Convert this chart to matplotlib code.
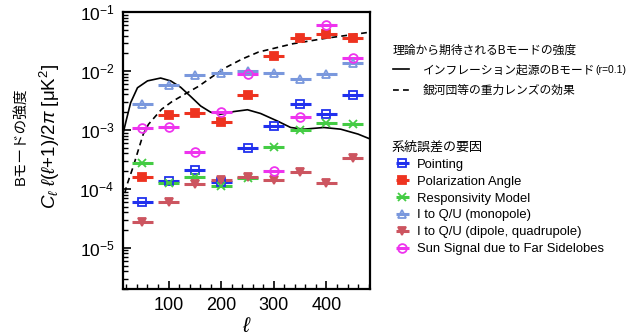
import matplotlib
matplotlib.use('Agg')
import matplotlib.pyplot as plt
from matplotlib.ticker import MultipleLocator, LogLocator, NullFormatter

plt.rcParams['font.family'] = ['Liberation Sans', 'Noto Sans CJK JP']
plt.rcParams['mathtext.fontset'] = 'custom'
plt.rcParams['mathtext.rm'] = 'Liberation Sans'
plt.rcParams['mathtext.it'] = 'Liberation Sans:italic'

# multipole bin centres and half-widths
ell = [50, 100, 150, 200, 250, 300, 350, 400, 450]
ell_err = 20

pointing = [5.9e-5, 1.34e-4, 2.1e-4, 1.3e-4, 4.9e-4, 1.15e-3, 2.75e-3, 1.9e-3, 3.9e-3]
pol_angle = [1.6e-4, 1.8e-3, 1.97e-3, 1.35e-3, 3.9e-3, 1.8e-2, 3.7e-2, 4.2e-2, 3.6e-2]
responsivity = [2.7e-4, 1.27e-4, 1.6e-4, 1.1e-4, 1.5e-4, 5.2e-4, 1.0e-3, 1.3e-3, 1.25e-3]
mono = [2.8e-3, 5.8e-3, 8.5e-3, 9.2e-3, 1.0e-2, 9.4e-3, 7.3e-3, 9.0e-3, 1.37e-2]
dipquad = [2.75e-5, 5.9e-5, 1.2e-4, 1.4e-4, 1.56e-4, 1.4e-4, 1.9e-4, 1.27e-4, 3.3e-4]
sun = [1.07e-3, 1.1e-3, 4.2e-4, 2.0e-3, 9.0e-3, 2.0e-4, 1.65e-3, 6.0e-2, 1.66e-2]

# theory spectra: primordial B-modes (r=0.1) and lensing B-modes
ell_r = [14, 20, 28, 41, 60, 85, 104, 123, 142, 161, 180, 199, 224, 250, 275,
         308, 332, 357, 395, 427, 460, 485]
cl_r = [9e-4, 1.5e-3, 2.9e-3, 5.2e-3, 6.8e-3, 7.6e-3, 6.8e-3, 5.3e-3, 3.7e-3,
        2.55e-3, 2.0e-3, 1.85e-3, 2.05e-3, 2.2e-3, 1.9e-3, 1.4e-3, 1.1e-3,
        1.03e-3, 1.1e-3, 1.03e-3, 8.5e-4, 6.9e-4]
ell_lens = [17, 20, 33, 43, 52, 62, 75, 87, 106, 132, 157, 182, 209, 240, 271,
            336, 399, 462, 485]
cl_lens = [8.5e-5, 1.1e-4, 2.4e-4, 4.7e-4, 8.5e-4, 1.25e-3, 1.7e-3, 2.25e-3,
           3.0e-3, 4.1e-3, 5.5e-3, 7.9e-3, 1.15e-2, 1.6e-2, 2.1e-2, 2.9e-2,
           3.6e-2, 4.3e-2, 4.6e-2]

fig = plt.figure(figsize=(6.36, 3.36), dpi=100)
ax = fig.add_axes([0.193, 0.140, 0.389, 0.824])

th_r, = ax.plot(ell_r, cl_r, color='black', lw=1.2)
th_l, = ax.plot(ell_lens, cl_lens, color='black', lw=1.2, ls=(0, (3.5, 2.5)))

series = [
    (pointing, 'Pointing', '#2030ee', 's', 'none'),
    (pol_angle, 'Polarization Angle', '#ee3320', 's', '#ee3320'),
    (responsivity, 'Responsivity Model', '#44cc44', 'x', '#44cc44'),
    (mono, 'I to Q/U (monopole)', '#7a98dd', '^', 'none'),
    (dipquad, 'I to Q/U (dipole, quadrupole)', '#cc5560', 'v', '#cc5560'),
    (sun, 'Sun Signal due to Far Sidelobes', '#ee33ee', 'o', 'none'),
]
handles = []
for vals, name, col, mk, fc in series:
    h = ax.errorbar(ell, vals, xerr=ell_err, fmt=mk, color=col, mfc=fc,
                    mec=col, ms=6.3, mew=1.3, elinewidth=2.2, capsize=0,
                    label=name, zorder=3)
    handles.append(h)

ax.set_yscale('log')
ax.set_xlim(13, 483)
ax.set_ylim(2e-6, 0.1)
ax.xaxis.set_major_locator(MultipleLocator(100))
ax.xaxis.set_minor_locator(MultipleLocator(20))
ax.yaxis.set_major_locator(LogLocator(base=10, numticks=10))
ax.yaxis.set_minor_locator(LogLocator(base=10, subs=range(2, 10), numticks=20))
ax.yaxis.set_minor_formatter(NullFormatter())
ax.tick_params(which='both', direction='in', top=False, right=False)
ax.tick_params(which='major', length=6, width=1.2, pad=6)
ax.tick_params(which='minor', length=3.5, width=1.0)
ax.tick_params(axis='x', labelsize=13)
ax.tick_params(axis='y', labelsize=12.5)
for sp in ax.spines.values():
    sp.set_linewidth(1.6)

ax.set_xlabel(r'$\ell$', fontsize=15, labelpad=2)
ax.set_ylabel(r'$C_\ell\ \ell(\ell\mathrm{+1)/2}\pi\ \mathrm{[\mu K^2]}$',
              fontsize=13.5)
ax.yaxis.set_label_coords(-0.247, 0.55)
fig.text(22 / 636, 1 - 136 / 336, 'Bモードの強度', rotation=90, ha='center',
         va='center', fontsize=10.5)

# theory legend
leg1 = ax.legend([th_r, th_l], ['インフレーション起源のBモード', '銀河団等の重力レンズの効果'],
                 title='理論から期待されるBモードの強度', alignment='left',
                 loc='upper left', bbox_to_anchor=(0.618, 0.868),
                 bbox_transform=fig.transFigure, frameon=False,
                 fontsize=8.5, title_fontsize=8.5, borderpad=0,
                 borderaxespad=0, handlelength=1.35, handletextpad=1.2,
                 labelspacing=0.7)
ax.add_artist(leg1)
ax.annotate('(r=0.1)', xy=(1, 0.15), xycoords=leg1.get_texts()[0],
            fontsize=7.5, va='bottom', ha='left', zorder=10)

# systematics legend
leg2 = ax.legend(handles=handles, title='系統誤差の要因', alignment='left',
                 loc='upper left', bbox_to_anchor=(0.616, 0.578),
                 bbox_transform=fig.transFigure, frameon=False,
                 fontsize=9.4, title_fontsize=9.4, borderpad=0,
                 borderaxespad=0, handlelength=1.6, handletextpad=0.3,
                 labelspacing=0.36)

fig.savefig('out.png', dpi=100)
